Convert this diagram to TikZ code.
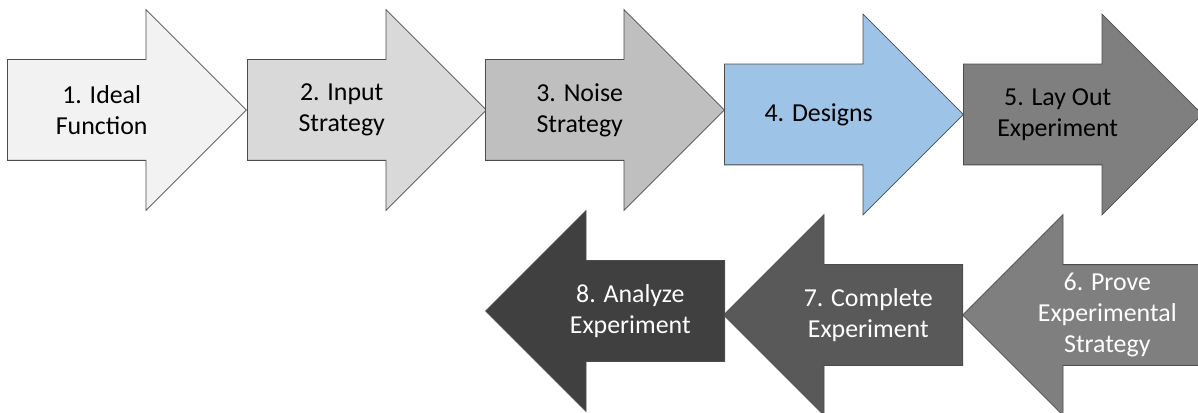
\documentclass[tikz,border=0pt]{standalone}
\usepackage{fontspec}
\setmainfont{Carlito}
\usetikzlibrary{shapes.arrows}

% step fills, light to dark
\definecolor{stepone}{HTML}{F2F2F2}
\definecolor{steptwo}{HTML}{D9D9D9}
\definecolor{stepthree}{HTML}{BFBFBF}
\definecolor{stepfour}{HTML}{9DC3E6}
\definecolor{stepfive}{HTML}{7F7F7F}
\definecolor{stepsix}{HTML}{7F7F7F}
\definecolor{stepseven}{HTML}{595959}
\definecolor{stepeight}{HTML}{404040}

\begin{document}
\begin{tikzpicture}[x=0.75pt,y=-0.75pt,
  flow/.style={single arrow,draw=black!70,line width=0.6pt,anchor=tail,
    inner xsep=0pt,inner ysep=37.5pt,minimum height=179.25pt,
    single arrow head extend=37.5pt,single arrow head indent=0pt},
  backflow/.style={flow,shape border rotate=180},
  steptext/.style={align=center,inner sep=0pt,font=\fontsize{19.4}{23}\selectfont}]
\useasboundingbox (0,0) rectangle (1198,413);

% top row, left to right (placed by their tails)
\node[flow,fill=stepone] (s1) at (7,110) {};
\node[flow,fill=steptwo] (s2) at (247,110) {};
\node[flow,fill=stepthree] (s3) at (485,110) {};
\node[flow,fill=stepfour] (s4) at (724,114.5) {};
\node[flow,fill=stepfive] (s5) at (963,114.5) {};
\node[steptext] (t1) at (s1.center) {1. Ideal\\Function};
\node[steptext] (t2) at (s2.center) {2. Input\\Strategy};
\node[steptext] (t3) at (s3.center) {3. Noise\\Strategy};
\node[steptext] (t4) at (s4.center) {4. Designs};
\node[steptext] (t5) at (s5.center) {5. Lay Out\\Experiment};

% bottom row, right to left
\node[backflow,fill=stepsix] (s6) at (1202,315) {};
\node[backflow,fill=stepseven] (s7) at (963,315) {};
\node[backflow,fill=stepeight] (s8) at (725,311) {};
\node[steptext,white] (t6) at (s6.center) {6. Prove\\Experimental\\Strategy};
\node[steptext,white] (t7) at (s7.center) {7. Complete\\Experiment};
\node[steptext,white] (t8) at (s8.center) {8. Analyze\\Experiment};
\end{tikzpicture}
\end{document}
